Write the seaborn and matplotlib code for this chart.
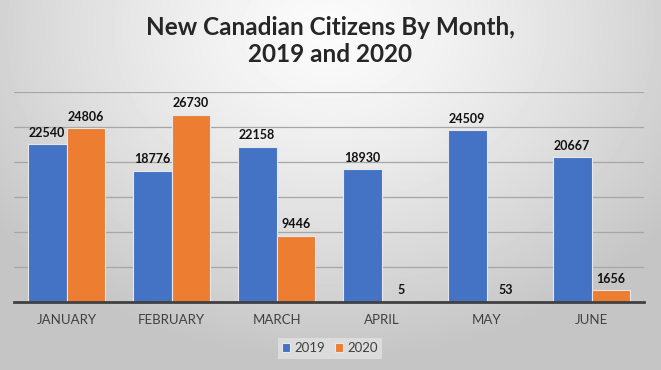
import numpy as np
import pandas as pd
import matplotlib
matplotlib.use("Agg")
import matplotlib.pyplot as plt
import seaborn as sns

months = ["JANUARY", "FEBRUARY", "MARCH", "APRIL", "MAY", "JUNE"]
values_2019 = [22540, 18776, 22158, 18930, 24509, 20667]
values_2020 = [24806, 26730, 9446, 5, 53, 1656]
years = ["2019", "2020"]
colors = ["#4472C4", "#ED7D31"]
title = "New Canadian Citizens By Month,\n2019 and 2020"

df = pd.DataFrame({
    "month": months * 2,
    "year": [years[0]] * len(months) + [years[1]] * len(months),
    "value": values_2019 + values_2020,
})

sns.set_theme(style="white")
plt.rcParams["font.family"] = ["Lato", "DejaVu Sans"]

fig = plt.figure(figsize=(6.61, 3.70), dpi=100)

# radial gradient background
bg = fig.add_axes([0, 0, 1, 1], zorder=0)
H, W = 370, 661
yy, xx = np.mgrid[0:H, 0:W]
r = np.sqrt(((xx - 330) / 420.0) ** 2 + ((yy - 30) / 330.0) ** 2)
r = np.clip(r, 0, 1)
val = 0.985 - (0.985 - 0.77) * r ** 1.3
bg.imshow(val, cmap="gray", vmin=0, vmax=1, aspect="auto", extent=[0, 1, 0, 1], origin="upper")
bg.axis("off")

ax = fig.add_axes([14 / 661, 1 - 302 / 370, 630 / 661, 210 / 370], zorder=1)
ax.patch.set_alpha(0)
sns.barplot(data=df, x="month", y="value", hue="year", palette=colors,
            width=0.74, gap=0, ax=ax, edgecolor="#e8e8e8", linewidth=0.8,
            saturation=1, legend=True)

ax.set_ylim(0, 30000)
ax.set_xlim(-0.5, 5.5)
ax.set_yticks(np.arange(0, 30001, 5000))
ax.set_yticklabels([])
ax.tick_params(axis="y", length=0)
ax.yaxis.grid(True, color="#a6a6a6", linewidth=0.9)
ax.set_axisbelow(True)
for s in ["top", "right", "left"]:
    ax.spines[s].set_visible(False)
ax.spines["bottom"].set_color("#404040")
ax.spines["bottom"].set_linewidth(2)
ax.set_xlabel("")
ax.set_ylabel("")
ax.tick_params(axis="x", length=0, pad=9, labelsize=9.5, labelcolor="#404040")

for cont in ax.containers:
    ax.bar_label(cont, fmt="%d", padding=4, fontsize=9, fontweight="bold", color="#111111")

handles, labels = ax.get_legend_handles_labels()
ax.legend(handles, labels, loc="center", bbox_to_anchor=(316 / 630, -0.22),
          ncol=2, frameon=True, fontsize=9.5, handlelength=0.6, handleheight=0.6,
          handletextpad=0.3, columnspacing=0.8, borderpad=0.35,
          facecolor="#dcdcdc", edgecolor="none", framealpha=1, fancybox=False,
          labelcolor="#404040")

fig.text(0.5, 1 - 41 / 370, title, ha="center", va="center", fontsize=17.5,
         fontweight="bold", color="#262626", linespacing=1.2)

fig.savefig("out.png", dpi=100)
